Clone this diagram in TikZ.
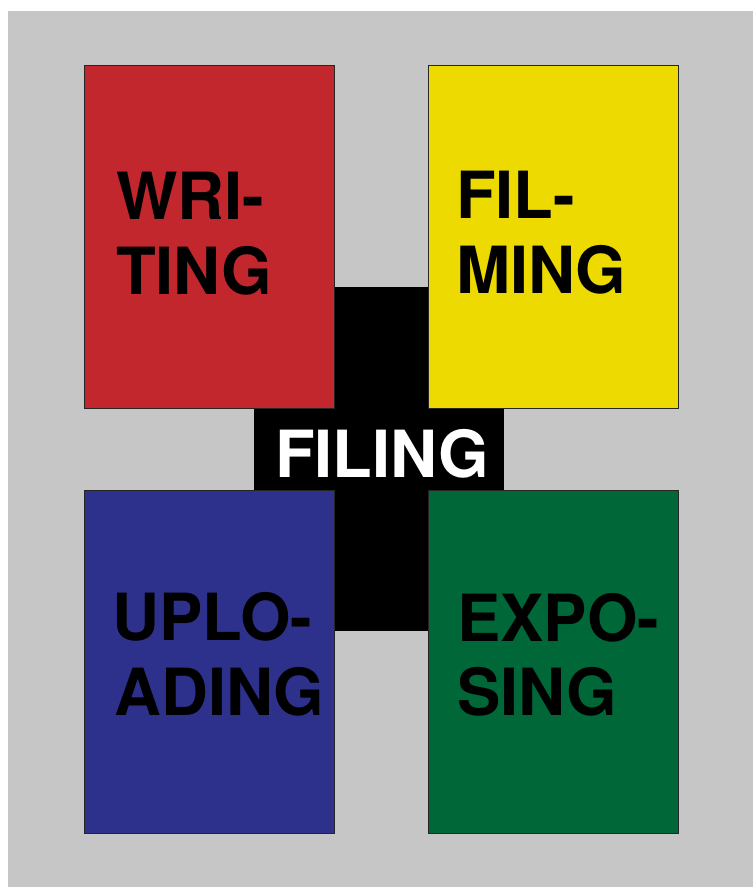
\documentclass[tikz,border=0pt]{standalone}
\usepackage{fontspec}
\setmainfont{TeX Gyre Heros}
\definecolor{bggray}{RGB}{198,198,198}
\definecolor{cred}{RGB}{193,39,45}
\definecolor{cyellow}{RGB}{236,218,0}
\definecolor{cblue}{RGB}{46,49,140}
\definecolor{cgreen}{RGB}{0,104,56}
\tikzset{
  card/.style={draw=black!85, line width=0.8pt},
  word/.style={anchor=base west, inner sep=0pt, font=\fontsize{65}{75}\selectfont\bfseries, text=black},
  hub/.style={anchor=base, inner sep=0pt, font=\fontsize{65}{75}\selectfont\bfseries, text=white}
}
\begin{document}
\begin{tikzpicture}[x=1pt,y=-1pt]
\useasboundingbox (0,0) rectangle (753,887);
\fill[white] (0,0) rectangle (753,887);
\fill[bggray] (8,11) rectangle (753,887);
% black cross
\fill[black] (334,287) rectangle (428,631);
\fill[black] (254,408) rectangle (504,490);
% cards
\draw[card, fill=cred] (84,65) rectangle (334,408);
\draw[card, fill=cyellow] (428,65) rectangle (678,408);
\draw[card, fill=cblue] (84,490) rectangle (334,833);
\draw[card, fill=cgreen] (428,490) rectangle (678,833);
% texts
\node[word] (wri1) at (116,219) {WRI-};
\node[word] (wri2) at (116,294) {TING};
\node[word] (fil1) at (456,218) {FIL-};
\node[word] (fil2) at (456,293) {MING};
\node[word] (upl1) at (112,640) {UPLO-};
\node[word] (upl2) at (114,715) {ADING};
\node[word] (exp1) at (457,641) {EXPO-};
\node[word] (exp2) at (457,715) {SING};
\node[hub] (filing) at (382,477) {FILING};
\end{tikzpicture}
\end{document}
